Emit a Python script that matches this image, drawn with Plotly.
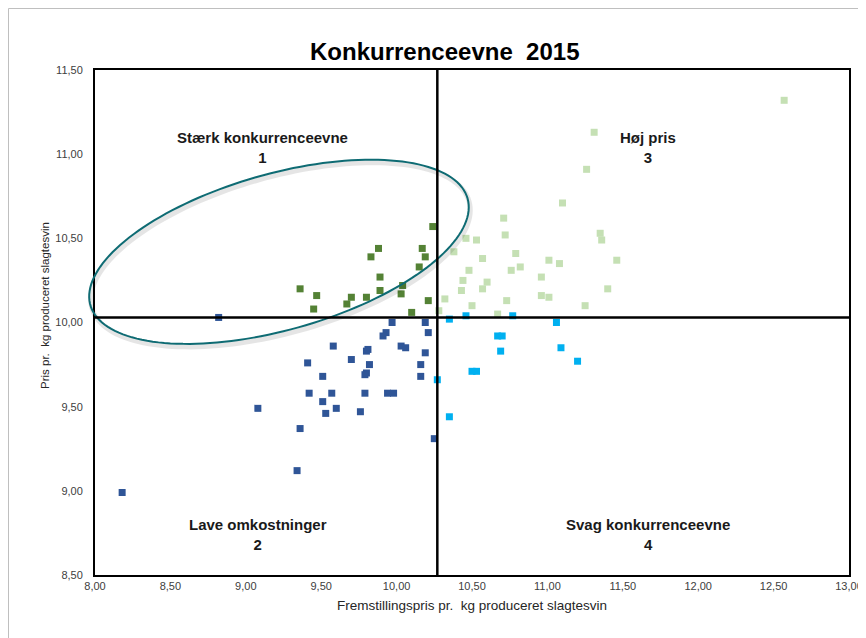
import numpy as np
import plotly.graph_objects as go

# Quadrant 1 - "Stærk konkurrenceevne" (dark green)
strong_x = [10.24, 9.88, 9.83, 10.17, 10.19, 10.15, 9.89, 9.36, 9.89, 10.04,
            10.03, 9.47, 9.70, 9.80, 9.67, 9.45, 10.21, 10.10]
strong_y = [10.57, 10.44, 10.39, 10.44, 10.39, 10.33, 10.27, 10.20, 10.19, 10.22,
            10.17, 10.16, 10.15, 10.15, 10.11, 10.08, 10.13, 10.06]

# Quadrant 3 - "Høj pris" (light green)
high_x = [11.10, 10.71, 10.46, 10.53, 10.72, 11.35, 11.36, 10.38, 10.57, 10.79,
          11.01, 11.08, 11.46, 10.48, 10.76, 10.82, 10.96, 10.44, 10.60, 10.43,
          10.57, 11.40, 10.96, 11.01, 10.73, 10.32, 10.50, 11.25, 10.28, 10.67,
          12.57, 11.31, 11.26]
high_y = [10.71, 10.62, 10.50, 10.49, 10.52, 10.53, 10.49, 10.42, 10.38, 10.41,
          10.37, 10.35, 10.37, 10.31, 10.31, 10.33, 10.27, 10.25, 10.24, 10.19,
          10.20, 10.20, 10.16, 10.15, 10.13, 10.14, 10.10, 10.10, 10.07, 10.05,
          11.32, 11.13, 10.91]

# Quadrant 2 - "Lave omkostninger" (dark blue)
low_x = [9.97, 10.19, 10.21, 9.93, 9.91, 9.58, 10.03, 10.06, 9.81, 9.80,
         10.19, 9.41, 9.70, 9.82, 10.16, 9.51, 9.80, 9.79, 10.16, 9.42,
         9.57, 9.79, 9.94, 9.98, 9.51, 9.60, 9.53, 9.76, 9.36, 10.25,
         9.08, 9.34, 8.18, 8.82]
low_y = [10.00, 10.00, 9.94, 9.94, 9.92, 9.86, 9.86, 9.85, 9.84, 9.83,
         9.82, 9.76, 9.78, 9.75, 9.75, 9.68, 9.70, 9.69, 9.68, 9.58,
         9.58, 9.58, 9.58, 9.58, 9.53, 9.49, 9.46, 9.47, 9.37, 9.31,
         9.49, 9.12, 8.99, 10.03]

# Quadrant 4 - "Svag konkurrenceevne" (light blue)
weak_x = [10.35, 10.46, 10.77, 11.06, 10.67, 10.70, 10.69, 11.09, 11.20, 10.50,
          10.53, 10.27, 10.35]
weak_y = [10.02, 10.04, 10.04, 10.00, 9.92, 9.92, 9.83, 9.85, 9.77, 9.71,
          9.71, 9.66, 9.44]

# quadrant dividers (averages)
avg_cost = 10.27
avg_price = 10.03

quadrant_labels = ["Stærk konkurrenceevne<br>1", "Høj pris<br>3",
                   "Lave omkostninger<br>2", "Svag konkurrenceevne<br>4"]
label_x = [9.11, 11.67, 9.08, 11.67]
label_y = [11.04, 11.04, 8.74, 8.74]

X_RANGE = (8.0, 13.0)
Y_RANGE = (8.5, 11.5)

FONT = "Liberation Sans, Arial, sans-serif"

# page body has an 8px margin, so the plot box is placed 8px further
# up/left to land where the reference has it
FIG_W, FIG_H = 866 - 8, 638 - 8
PLOT_W, PLOT_H = 754, 505
LEFT, TOP = 95 - 8, 70 - 8

fig = go.Figure()


def add_points(xs, ys, color, name):
    fig.add_trace(go.Scatter(
        x=xs, y=ys, mode="markers", name=name,
        marker=dict(symbol="square", size=7, color=color,
                    line=dict(width=0)),
        showlegend=False,
    ))


add_points(high_x, high_y, "#C5E0B4", "Høj pris")
add_points(strong_x, strong_y, "#548235", "Stærk konkurrenceevne")
add_points(weak_x, weak_y, "#00B0F0", "Svag konkurrenceevne")
add_points(low_x, low_y, "#2F5597", "Lave omkostninger")


def to_paper(x, y):
    return ((x - X_RANGE[0]) / (X_RANGE[1] - X_RANGE[0]),
            (y - Y_RANGE[0]) / (Y_RANGE[1] - Y_RANGE[0]))


def ellipse_path(cx, cy, a_px, b_px, angle_deg, off_px=(0, 0)):
    # built in pixel space so the tilt looks right, then mapped to paper
    # coords so it isn't clipped where it pokes past the y axis
    t = np.linspace(0, 2 * np.pi, 160)
    ang = np.radians(angle_deg)
    dx = a_px * np.cos(ang) * np.cos(t) - b_px * np.sin(ang) * np.sin(t) + off_px[0]
    dy = a_px * np.sin(ang) * np.cos(t) + b_px * np.cos(ang) * np.sin(t) + off_px[1]
    px0, py0 = to_paper(cx, cy)
    xs = px0 + dx / PLOT_W
    ys = py0 + dy / PLOT_H
    pts = [f"{x:.5f},{y:.5f}" for x, y in zip(xs, ys)]
    return "M " + " L ".join(pts) + " Z"


def px(sx, sy):
    """screen pixel (reference picture) -> paper coords"""
    return (sx - 95) / PLOT_W, (575 - sy) / PLOT_H


# soft shadow under the highlight ellipse
fig.add_shape(type="path", xref="paper", yref="paper",
              path=ellipse_path(9.22, 10.42, 196, 78, 15.8, off_px=(1.5, -3)),
              line=dict(color="rgba(0,0,0,0.10)", width=5))
fig.add_shape(type="path", xref="paper", yref="paper",
              path=ellipse_path(9.22, 10.42, 196, 78, 15.8),
              line=dict(color="#0E6B73", width=2))

fig.add_shape(type="line", x0=avg_cost, x1=avg_cost, y0=Y_RANGE[0], y1=Y_RANGE[1],
              line=dict(color="black", width=2.5))
fig.add_shape(type="line", x0=X_RANGE[0], x1=X_RANGE[1], y0=avg_price, y1=avg_price,
              line=dict(color="black", width=2.5))

# chart area border (Excel frame)
fx0, fy0 = px(8.5, 640)
fx1, fy1 = px(875, 8.5)
fig.add_shape(type="rect", xref="paper", yref="paper",
              x0=fx0, x1=fx1, y0=fy0, y1=fy1,
              line=dict(color="#BFBFBF", width=1), layer="below")

for txt, lx, ly in zip(quadrant_labels, label_x, label_y):
    fig.add_annotation(x=lx, y=ly, text=f"<b>{txt}</b>", showarrow=False,
                       font=dict(family=FONT, size=15, color="#1a1a1a"),
                       align="center")

# title and axis titles placed as annotations (pixel-matched)
tx, ty = px(444, 36)
fig.add_annotation(xref="paper", yref="paper", x=tx, y=ty,
                   text="<b>Konkurrenceevne  2015</b>", showarrow=False,
                   font=dict(family=FONT, size=24, color="black"))
tx, ty = px(472, 615)
fig.add_annotation(xref="paper", yref="paper", x=tx, y=ty,
                   text="Fremstillingspris pr.  kg produceret slagtesvin", showarrow=False,
                   font=dict(family=FONT, size=13.5, color="#262626"))
tx, ty = px(37, 306)
fig.add_annotation(xref="paper", yref="paper", x=tx, y=ty,
                   text="Pris pr.  kg produceret slagtesvin", showarrow=False,
                   textangle=-90,
                   font=dict(family=FONT, size=11.5, color="#262626"))

axis_style = dict(showgrid=False, zeroline=False, showline=True, mirror=True,
                  linecolor="black", linewidth=2, ticks="", automargin=False,
                  dtick=0.5, tickformat=".2f",
                  tickfont=dict(family=FONT, size=11, color="#404040"))

fig.update_layout(
    width=FIG_W, height=FIG_H,
    margin=dict(l=LEFT, r=FIG_W - LEFT - PLOT_W, t=TOP, b=FIG_H - TOP - PLOT_H),
    paper_bgcolor="white", plot_bgcolor="white",
    separators=",.",
    xaxis=dict(range=list(X_RANGE), **axis_style),
    yaxis=dict(range=list(Y_RANGE), ticklabelstandoff=8, **axis_style),
)

fig.write_html("out.html")
